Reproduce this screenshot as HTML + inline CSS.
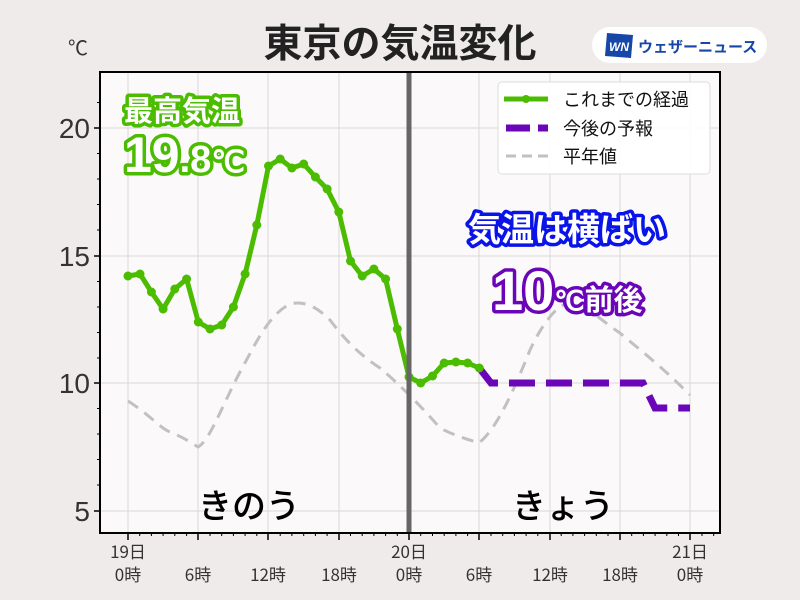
<!DOCTYPE html>
<html><head><meta charset="utf-8"><style>
html,body{margin:0;padding:0;background:#efebea;}
svg{display:block;font-family:"Liberation Sans","Noto Sans CJK JP",sans-serif;}
</style></head><body>
<svg width="800" height="600" viewBox="0 0 800 600" xmlns="http://www.w3.org/2000/svg">
<rect width="800" height="600" fill="#efebea"/>
<text x="400" y="57" text-anchor="middle" font-size="39" font-weight="bold" fill="#222" font-family="Noto Sans CJK JP, sans-serif">東京の気温変化</text>
<rect x="592" y="27" width="175" height="36" rx="18" fill="#fff"/>
<polygon points="607,33 633,35 631,58 605,56" fill="#1646a8"/>
<text x="619" y="51" text-anchor="middle" font-size="12" font-weight="bold" font-style="italic" fill="#fff">WN</text>
<text x="638" y="52" font-size="15" font-weight="bold" fill="#1646a8" font-family="Noto Sans CJK JP, sans-serif">ウェザーニュース</text>
<text x="78" y="55" text-anchor="middle" font-size="20" fill="#333">℃</text>
<rect x="100" y="72" width="620" height="461" fill="#fbf9fa"/>
<g stroke="#d8d6d7" stroke-width="1">
<line x1="128" y1="72" x2="128" y2="533"/><line x1="198" y1="72" x2="198" y2="533"/><line x1="268" y1="72" x2="268" y2="533"/><line x1="339" y1="72" x2="339" y2="533"/><line x1="479" y1="72" x2="479" y2="533"/><line x1="550" y1="72" x2="550" y2="533"/><line x1="620" y1="72" x2="620" y2="533"/><line x1="690" y1="72" x2="690" y2="533"/>
<line x1="100" y1="128" x2="720" y2="128"/><line x1="100" y1="256" x2="720" y2="256"/><line x1="100" y1="383" x2="720" y2="383"/><line x1="100" y1="511" x2="720" y2="511"/>
</g>
<path d="M128,401 C150,415 160,428 170,432 C185,438 195,445 198,447 C210,440 220,410 240,372 C255,345 268,315 290,304 C305,300 318,308 330,320 C345,340 360,355 380,368 C400,385 420,405 440,428 C455,436 470,440 479,443 C495,430 510,400 530,350 C545,318 560,303 570,303 C585,303 600,320 620,333 C640,350 660,365 690,395" fill="none" stroke="#c2c0c1" stroke-width="3" stroke-dasharray="12,8"/>
<polyline points="479.3,368 491,383 643,383 655,408 690,408" fill="none" stroke="#6a06b8" stroke-width="7" stroke-dasharray="26,11"/>
<g fill="none" stroke="#4cbc00" stroke-width="5" stroke-linejoin="round">
<polyline points="128,276 140,274 151.4,292 163.1,309 174.8,289 186.6,279 198.3,322 210,329 221.7,325 233.4,307 245.1,274 256.8,225 268.5,166 280.2,159 291.9,168 303.7,164 315.4,177 327.1,189 338.8,212 350.5,261 362.2,276 373.9,269 385.6,279 397.3,329 409,377 420.7,383 432.5,376 444.2,363 455.9,362 467.6,363 479.3,368"/>
</g>
<g fill="#4cbc00">
<circle cx="128" cy="276" r="4.5"/><circle cx="140" cy="274" r="4.5"/><circle cx="151.4" cy="292" r="4.5"/><circle cx="163.1" cy="309" r="4.5"/><circle cx="174.8" cy="289" r="4.5"/><circle cx="186.6" cy="279" r="4.5"/><circle cx="198.3" cy="322" r="4.5"/><circle cx="210" cy="329" r="4.5"/><circle cx="221.7" cy="325" r="4.5"/><circle cx="233.4" cy="307" r="4.5"/><circle cx="245.1" cy="274" r="4.5"/><circle cx="256.8" cy="225" r="4.5"/><circle cx="268.5" cy="166" r="4.5"/><circle cx="280.2" cy="159" r="4.5"/><circle cx="291.9" cy="168" r="4.5"/><circle cx="303.7" cy="164" r="4.5"/><circle cx="315.4" cy="177" r="4.5"/><circle cx="327.1" cy="189" r="4.5"/><circle cx="338.8" cy="212" r="4.5"/><circle cx="350.5" cy="261" r="4.5"/><circle cx="362.2" cy="276" r="4.5"/><circle cx="373.9" cy="269" r="4.5"/><circle cx="385.6" cy="279" r="4.5"/><circle cx="397.3" cy="329" r="4.5"/><circle cx="409" cy="377" r="4.5"/><circle cx="420.7" cy="383" r="4.5"/><circle cx="432.5" cy="376" r="4.5"/><circle cx="444.2" cy="363" r="4.5"/><circle cx="455.9" cy="362" r="4.5"/><circle cx="467.6" cy="363" r="4.5"/><circle cx="479.3" cy="368" r="4.5"/>
</g>
<line x1="409" y1="72" x2="409" y2="533" stroke="#666" stroke-width="5"/>
<rect x="100" y="72" width="620" height="461" fill="none" stroke="#000" stroke-width="2"/>
<g stroke="#000" stroke-width="1.5">
<line x1="94" y1="128" x2="100" y2="128"/><line x1="94" y1="256" x2="100" y2="256"/><line x1="94" y1="383" x2="100" y2="383"/><line x1="94" y1="511" x2="100" y2="511"/>
<line x1="128" y1="533" x2="128" y2="540"/><line x1="198" y1="533" x2="198" y2="540"/><line x1="268" y1="533" x2="268" y2="540"/><line x1="339" y1="533" x2="339" y2="540"/><line x1="409" y1="533" x2="409" y2="540"/><line x1="479" y1="533" x2="479" y2="540"/><line x1="550" y1="533" x2="550" y2="540"/><line x1="620" y1="533" x2="620" y2="540"/><line x1="690" y1="533" x2="690" y2="540"/>
</g>
<path d="M97,102.5h3M97,153.5h3M97,179h3M97,204.5h3M97,230h3M97,281.5h3M97,307h3M97,332.5h3M97,358h3M97,408.5h3M97,434h3M97,459.5h3M97,485h3" stroke="#000" stroke-width="1"/>
<path d="M139.7,533v3M151.4,533v3M163.1,533v3M174.8,533v3M186.6,533v3M210,533v3M221.7,533v3M233.4,533v3M245.1,533v3M256.8,533v3M280.2,533v3M291.9,533v3M303.7,533v3M315.4,533v3M327.1,533v3M350.5,533v3M362.2,533v3M373.9,533v3M385.6,533v3M397.3,533v3M420.7,533v3M432.5,533v3M444.2,533v3M455.9,533v3M467.6,533v3M491,533v3M502.7,533v3M514.4,533v3M526.1,533v3M537.8,533v3M561.2,533v3M572.9,533v3M584.6,533v3M596.3,533v3M608,533v3M631.7,533v3M643.4,533v3M655.1,533v3M666.8,533v3M678.5,533v3M702,533v3M713.7,533v3" stroke="#000" stroke-width="1"/>
<g font-size="28" fill="#333" text-anchor="end">
<text x="90" y="138">20</text><text x="90" y="266">15</text><text x="90" y="393">10</text><text x="90" y="521">5</text>
</g>
<g font-size="17" fill="#333" text-anchor="middle" font-family="Noto Sans CJK JP, sans-serif">
<text x="128" y="558">19日</text><text x="409" y="558">20日</text><text x="690" y="558">21日</text>
<text x="128" y="581">0時</text><text x="198" y="581">6時</text><text x="268" y="581">12時</text><text x="339" y="581">18時</text><text x="409" y="581">0時</text><text x="479" y="581">6時</text><text x="550" y="581">12時</text><text x="620" y="581">18時</text><text x="690" y="581">0時</text>
</g>
<g font-size="34" fill="#000" text-anchor="middle" font-weight="500" font-family="Noto Sans CJK JP, sans-serif">
<text x="249" y="518">きのう</text><text x="563" y="518">きょう</text>
</g>
<g font-family="Noto Sans CJK JP, sans-serif" font-weight="bold" stroke-linejoin="round" paint-order="stroke">
<text x="124" y="121" font-size="29" fill="#fff" stroke="#4cbc00" stroke-width="7">最高気温</text>
<text x="124" y="172" font-size="50" fill="#fff" stroke="#4cbc00" stroke-width="7" font-family="Liberation Sans, sans-serif">19<tspan font-size="38">.8</tspan><tspan font-size="30">℃</tspan></text>
<text x="468" y="241" font-size="33" fill="#fff" stroke="#0a14e8" stroke-width="7">気温は横ばい</text>
<text x="492" y="310" font-size="56" fill="#fff" stroke="#6a06b8" stroke-width="7" font-family="Liberation Sans, sans-serif">10<tspan font-size="27">℃</tspan><tspan font-size="29" font-family="Noto Sans CJK JP, sans-serif">前後</tspan></text>
</g>
<rect x="498" y="82" width="212" height="92" rx="4" fill="#fff" fill-opacity="0.9" stroke="#ddd"/>
<line x1="504" y1="99" x2="548" y2="99" stroke="#4cbc00" stroke-width="5"/><circle cx="526" cy="99" r="4" fill="#4cbc00"/>
<path d="M506,128h24M538,128h10" stroke="#6a06b8" stroke-width="7"/>
<line x1="506" y1="156" x2="548" y2="156" stroke="#c2c0c1" stroke-width="3" stroke-dasharray="10,6"/>
<g font-size="18" fill="#111" font-family="Noto Sans CJK JP, sans-serif">
<text x="563" y="106">これまでの経過</text><text x="563" y="135">今後の予報</text><text x="563" y="163">平年値</text>
</g>
</svg>
</body></html>
